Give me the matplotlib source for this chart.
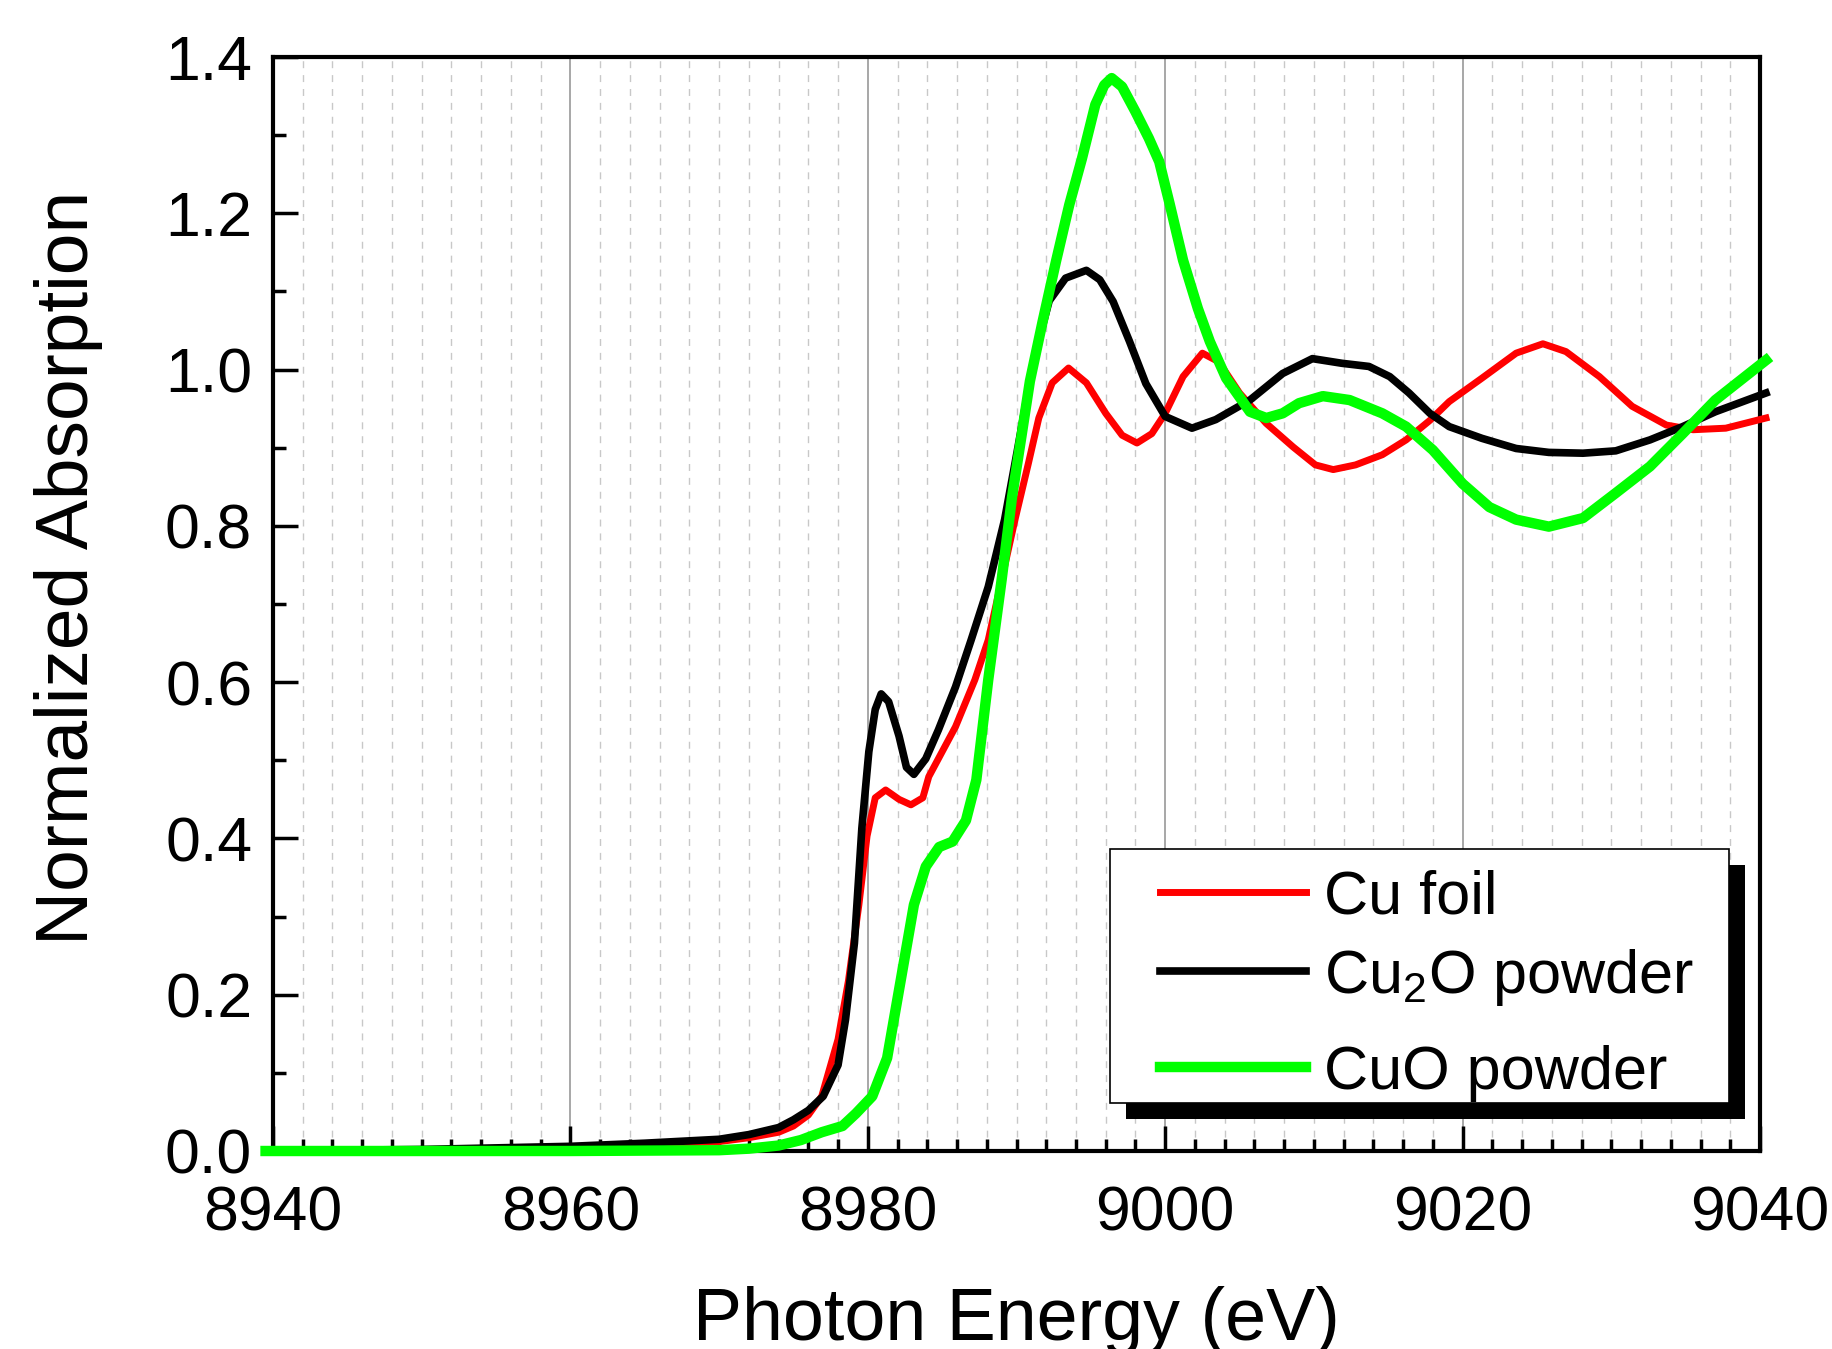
import matplotlib
matplotlib.use("Agg")
import matplotlib.pyplot as plt
from matplotlib.patches import Rectangle
from matplotlib.lines import Line2D
from matplotlib.ticker import MultipleLocator, FormatStrFormatter

plt.rcParams['font.family'] = ['Liberation Sans', 'DejaVu Sans']
plt.rcParams['mathtext.fontset'] = 'custom'
plt.rcParams['mathtext.rm'] = 'Liberation Sans'
plt.rcParams['mathtext.it'] = 'Liberation Sans'

# Cu foil
e_foil = [8939.5, 8950, 8960, 8965, 8970, 8972, 8974, 8975, 8976, 8976.9, 8978.0,
          8978.7, 8979.4, 8979.95, 8980.5, 8981.2, 8982.1, 8982.9, 8983.7, 8984.1,
          8985.9, 8987.2, 8988.1, 8989.0, 8989.9, 8990.8, 8991.5, 8992.4, 8993.5,
          8994.7, 8996.0, 8997.1, 8998.1, 8999.1, 9000.0, 9001.2, 9002.5, 9003.6,
          9005.0, 9006.8, 9008.6, 9010.1, 9011.3, 9012.8, 9014.6, 9016.2, 9017.8,
          9019.1, 9021.3, 9023.6, 9025.4, 9026.95, 9029.2, 9031.4, 9033.7, 9035.5,
          9037.7, 9040.4]
mu_foil = [0.0, 0.001, 0.004, 0.007, 0.012, 0.017, 0.024, 0.032, 0.046, 0.070, 0.143,
           0.218, 0.315, 0.403, 0.452, 0.462, 0.450, 0.443, 0.452, 0.479,
           0.543, 0.603, 0.654, 0.731, 0.808, 0.880, 0.938, 0.983, 1.002,
           0.983, 0.944, 0.916, 0.906, 0.918, 0.944, 0.991, 1.021, 1.010,
           0.970, 0.931, 0.901, 0.878, 0.872, 0.878, 0.891, 0.910, 0.935,
           0.959, 0.989, 1.021, 1.033, 1.023, 0.991, 0.953, 0.929, 0.923,
           0.925, 0.938]

# Cu2O powder
e_cu2o = [8939.5, 8950, 8960, 8965, 8970, 8972, 8974, 8975, 8976, 8977, 8978,
          8978.5, 8979.1, 8979.6, 8980.07, 8980.5, 8980.9, 8981.4, 8982.1, 8982.6,
          8983.1, 8983.9, 8984.75, 8985.9, 8986.95, 8988.1, 8989.2, 8990.1, 8990.8,
          8991.5, 8992.2, 8993.3, 8994.7, 8995.6, 8996.5, 8997.6, 8998.7, 9000.0,
          9001.8, 9003.4, 9005.7, 9007.9, 9009.9, 9011.9, 9013.7, 9015.1, 9016.4,
          9017.8, 9019.1, 9021.3, 9023.6, 9025.8, 9028.1, 9030.3, 9032.6, 9034.8,
          9037.0, 9040.4]
mu_cu2o = [0.0, 0.002, 0.006, 0.010, 0.015, 0.021, 0.030, 0.040, 0.052, 0.070, 0.110,
           0.168, 0.266, 0.413, 0.511, 0.565, 0.585, 0.575, 0.531, 0.491,
           0.482, 0.502, 0.539, 0.594, 0.654, 0.722, 0.808, 0.901, 0.975,
           1.038, 1.088, 1.117, 1.127, 1.115, 1.087, 1.036, 0.982, 0.940,
           0.925, 0.936, 0.961, 0.995, 1.014, 1.008, 1.004, 0.991, 0.970,
           0.944, 0.927, 0.912, 0.899, 0.894, 0.893, 0.896, 0.910, 0.927,
           0.946, 0.970]

# CuO powder
e_cuo = [8939.5, 8950, 8960, 8970, 8972, 8974, 8975.5, 8976.9, 8978.3, 8979.2,
         8980.3, 8981.3, 8981.75, 8982.2, 8982.65, 8983.1, 8983.9, 8984.8, 8985.7,
         8986.6, 8987.3, 8988.1, 8989.0, 8989.7, 8990.4, 8990.9, 8991.75, 8992.65,
         8993.55, 8994.4, 8995.3, 8995.9, 8996.4, 8997.1, 8998.0, 8998.9, 8999.6,
         9000.3, 9001.2, 9002.2, 9003.0, 9004.1, 9005.7, 9006.8, 9007.9, 9009.0,
         9010.6, 9012.4, 9014.6, 9016.2, 9018.0, 9020.0, 9021.8, 9023.6, 9025.8,
         9028.1, 9030.3, 9032.6, 9034.8, 9037.0, 9040.4]
mu_cuo = [0.0, 0.0, 0.0, 0.001, 0.003, 0.007, 0.014, 0.024, 0.032, 0.048,
          0.070, 0.119, 0.168, 0.217, 0.266, 0.315, 0.364, 0.389, 0.396,
          0.423, 0.475, 0.603, 0.731, 0.837, 0.923, 0.985, 1.061, 1.138,
          1.211, 1.270, 1.339, 1.364, 1.373, 1.362, 1.330, 1.296, 1.266,
          1.212, 1.140, 1.078, 1.036, 0.989, 0.946, 0.938, 0.944, 0.957,
          0.966, 0.961, 0.944, 0.927, 0.897, 0.854, 0.824, 0.808, 0.799,
          0.810, 0.842, 0.876, 0.918, 0.961, 1.012]

labels = ['Cu foil', 'Cu$_2$O powder', 'CuO powder']
colors = ['#ff0000', '#000000', '#00ff00']
widths = [5, 5.5, 7.5]

W, H = 1832, 1349
fig = plt.figure(figsize=(W / 100, H / 100), dpi=100)
ax = fig.add_axes([273 / W, 1 - 1151 / H, 1487 / W, 1094 / H])

series = [(e_foil, mu_foil), (e_cu2o, mu_cu2o), (e_cuo, mu_cuo)]
for (e, mu), c, lw in zip(series, colors, widths):
    ax.plot(e, mu, color=c, lw=lw, clip_on=False, solid_joinstyle='round', zorder=3)

ax.set_xlim(8940, 9040)
ax.set_ylim(0, 1.4)
ax.xaxis.set_major_locator(MultipleLocator(20))
ax.xaxis.set_minor_locator(MultipleLocator(2))
ax.yaxis.set_major_locator(MultipleLocator(0.2))
ax.yaxis.set_minor_locator(MultipleLocator(0.1))
ax.yaxis.set_major_formatter(FormatStrFormatter('%.1f'))

ax.grid(axis='x', which='major', color='#a0a0a0', lw=1.3, ls='-')
ax.grid(axis='x', which='minor', color='#c8c8c8', lw=1.0, ls=(0, (5, 5)))
ax.set_axisbelow(True)

for s in ax.spines.values():
    s.set_linewidth(3)
ax.tick_params(which='both', direction='in', width=2.5, top=False, right=False)
ax.tick_params(which='major', length=18, labelsize=45)
ax.tick_params(axis='x', which='major', pad=24)
ax.tick_params(axis='y', which='major', pad=15)
ax.tick_params(which='minor', length=9)

ax.set_xlabel('Photon Energy (eV)', fontsize=53)
ax.set_ylabel('Normalized Absorption', fontsize=54)
ax.xaxis.set_label_coords(0.5, -0.123)
ax.yaxis.set_label_coords(-0.114, 0.533)

# legend box with offset black shadow
def fx(px):
    return px / W

def fy(py):
    return 1 - py / H

fig.add_artist(Rectangle((fx(1126), fy(1119)), fx(1745) - fx(1126), fy(865) - fy(1119),
                         transform=fig.transFigure, facecolor='black', edgecolor='none', zorder=5))
fig.add_artist(Rectangle((fx(1110), fy(1103)), fx(1729) - fx(1110), fy(849) - fy(1103),
                         transform=fig.transFigure, facecolor='white', edgecolor='black',
                         lw=1.2, zorder=6))
rows = [891.5, 971, 1066.7]
for lab, c, lw, ry in zip(labels, colors, widths, rows):
    fig.add_artist(Line2D([fx(1160), fx(1306)], [fy(ry), fy(ry)], transform=fig.transFigure,
                          color=c, lw=lw, zorder=7))
    fig.text(fx(1324), fy(ry + 22), lab, fontsize=44, va='baseline', ha='left', zorder=7)

fig.savefig('out.png', dpi=100)
